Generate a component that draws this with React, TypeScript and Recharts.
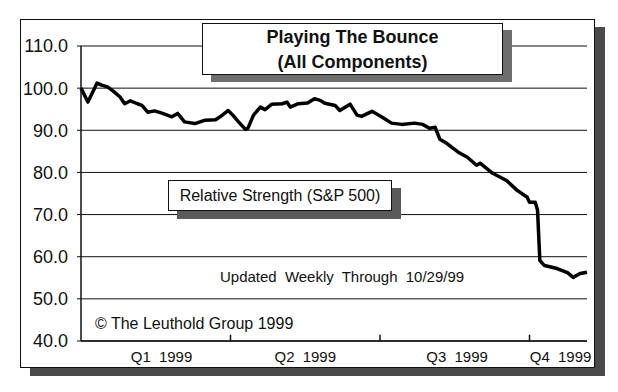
import { CartesianGrid, Line, LineChart, ReferenceLine, XAxis, YAxis } from "recharts";

// weeks since 1/1/99 and relative strength vs S&P 500
const weeks = [
  0.0, 0.6, 1.4, 1.8, 2.3, 2.8, 3.4, 3.8, 4.3, 4.9, 5.3, 5.8, 6.4, 7.1, 7.9, 8.4,
  9.0, 9.9, 10.8, 11.7, 12.1, 12.8, 13.2, 13.7, 14.3, 14.5, 15.0, 15.6, 16.0, 16.6,
  17.5, 17.9, 18.2, 18.9, 19.7, 20.3, 20.8, 21.2, 22.1, 22.5, 23.4, 24.0, 24.4,
  25.3, 26.2, 27.0, 27.9, 29.0, 29.7, 30.3, 30.8, 31.2, 31.8, 32.8, 33.6, 34.4,
  34.7, 35.8, 37.0, 37.9, 38.8, 39.0, 39.5, 39.7, 39.9, 40.3, 41.4, 42.3, 42.8,
  43.4, 44.0,
];
const relStrength = [
  100.0, 96.7, 101.2, 100.7, 100.3, 99.3, 97.9, 96.3, 97.0, 96.3, 95.9, 94.3, 94.6,
  94.0, 93.2, 94.0, 92.0, 91.6, 92.4, 92.5, 93.2, 94.7, 93.6, 92.0, 90.2, 90.4,
  93.6, 95.5, 94.9, 96.2, 96.3, 96.7, 95.5, 96.3, 96.5, 97.5, 97.1, 96.4, 95.9,
  94.7, 96.2, 93.6, 93.3, 94.5, 93.1, 91.7, 91.4, 91.7, 91.4, 90.5, 90.7, 87.9,
  86.9, 84.8, 83.6, 81.7, 82.2, 79.8, 78.1, 75.8, 74.1, 72.9, 72.9, 71.0, 59.1,
  57.9, 57.2, 56.2, 55.1, 56.0, 56.3,
];

const yTicks = [40, 50, 60, 70, 80, 90, 100, 110];
const quarterLabels = ["Q1 1999", "Q2 1999", "Q3 1999", "Q4 1999"];
const quarterLabelAt = [7, 19.5, 32.7, 41.7];
const quarterEnds = [13, 26, 39];

const data = weeks.map((w, i) => ({ w, rs: relStrength[i] }));

const FONT = "'Liberation Sans', Arial, Helvetica, sans-serif";

export default function App() {
  return (
    <div style={{ position: "absolute", left: 0, top: 0, width: 618, height: 392, background: "#fff", fontFamily: FONT }}>
      {/* outer frame with drop shadow */}
      <div
        style={{
          position: "absolute",
          left: 20,
          top: 19,
          width: 573,
          height: 347,
          border: "1.5px solid #111",
          background: "#fff",
          boxShadow: "10px 8px 0 #4a4a4a",
        }}
      />
      <div style={{ position: "absolute", left: 0, top: 0 }}>
        <LineChart width={618} height={392} data={data} margin={{ top: 46, right: 31, bottom: 21, left: 21 }}>
          <CartesianGrid horizontal vertical={false} stroke="#111" strokeWidth={1} />
          <XAxis
            dataKey="w"
            type="number"
            domain={[0, 44]}
            ticks={quarterLabelAt}
            tickFormatter={(_v: number, i: number) => quarterLabels[i]}
            tickLine={false}
            axisLine={{ stroke: "#111", strokeWidth: 1.5 }}
            tick={{ fill: "#111", fontSize: 15, fontFamily: FONT, wordSpacing: 4 }}
            tickMargin={4}
            height={30}
            interval={0}
          />
          <YAxis
            domain={[40, 110]}
            ticks={yTicks}
            tickFormatter={(v: number) => v.toFixed(1)}
            tick={{ fill: "#111", fontSize: 18, fontFamily: FONT }}
            tickLine={{ stroke: "#111" }}
            tickSize={4}
            tickMargin={9}
            axisLine={{ stroke: "#111", strokeWidth: 1.5 }}
            width={60}
            interval={0}
          />
          {quarterEnds.map((q) => (
            <ReferenceLine
              key={q}
              segment={[{ x: q, y: 40 }, { x: q, y: 41.5 }]}
              stroke="#111"
              strokeWidth={1.5}
              ifOverflow="visible"
            />
          ))}
          <Line
            type="linear"
            dataKey="rs"
            stroke="#000"
            strokeWidth={3.5}
            strokeLinejoin="round"
            dot={false}
            isAnimationActive={false}
          />
        </LineChart>
      </div>

      {/* title box */}
      <div
        style={{
          position: "absolute",
          left: 202,
          top: 23,
          width: 299,
          height: 50,
          border: "1px solid #111",
          background: "#fff",
          boxShadow: "9px 7px 0 #6e6e6e",
          textAlign: "center",
          fontWeight: "bold",
          fontSize: 18,
          lineHeight: "25px",
          color: "#111",
        }}
      >
        <div style={{ marginTop: 1 }}>Playing The Bounce</div>
        <div>(All Components)</div>
      </div>

      {/* series label box */}
      <div
        style={{
          position: "absolute",
          left: 168,
          top: 180,
          width: 222,
          height: 29,
          border: "1px solid #111",
          background: "#fff",
          boxShadow: "9px 8px 0 #5a5a5a",
          textAlign: "center",
          fontSize: 16,
          lineHeight: "29px",
          color: "#111",
        }}
      >
        Relative Strength (S&amp;P 500)
      </div>

      <div style={{ position: "absolute", left: 220, top: 268, fontSize: 15, wordSpacing: 4, color: "#111", whiteSpace: "nowrap" }}>
        Updated Weekly Through 10/29/99
      </div>
      <div style={{ position: "absolute", left: 95, top: 315, fontSize: 16, color: "#111", whiteSpace: "nowrap" }}>
        © The Leuthold Group 1999
      </div>
    </div>
  );
}
